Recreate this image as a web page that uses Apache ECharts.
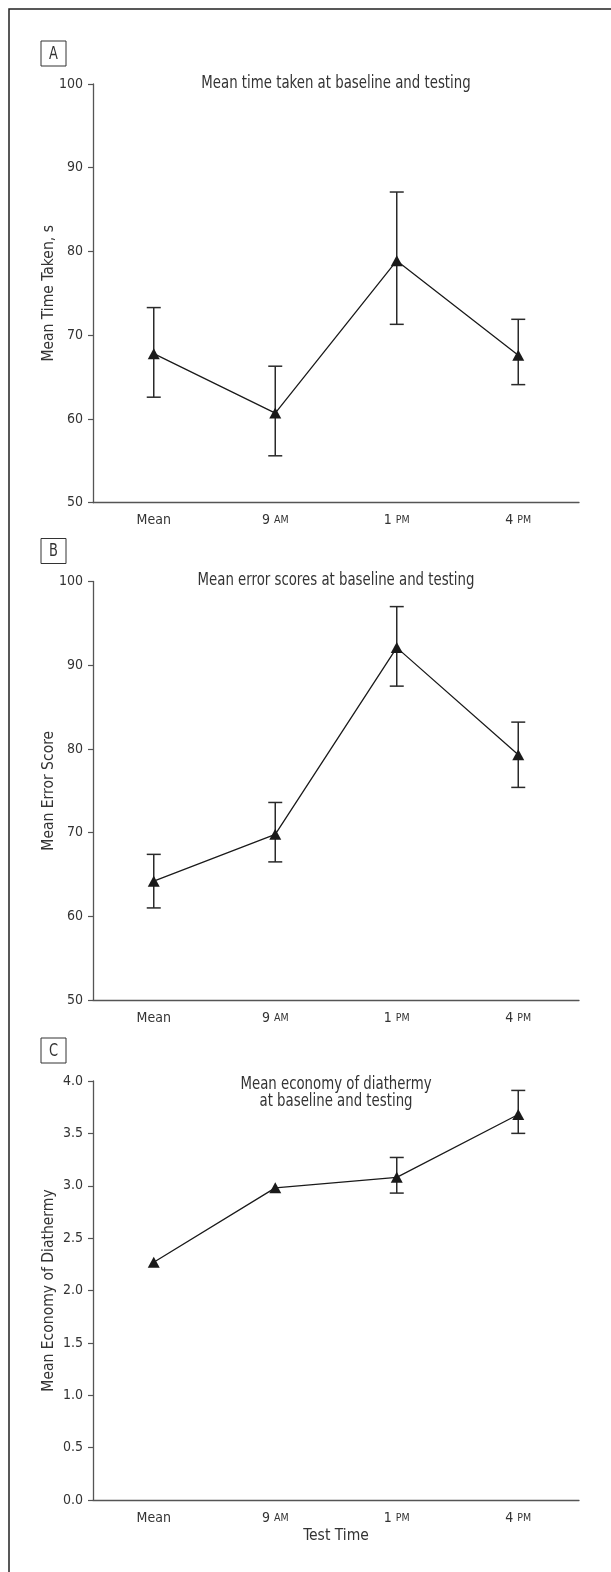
<!DOCTYPE html>
<html>
<head>
<meta charset="utf-8">
<script src="https://cdn.jsdelivr.net/npm/echarts@6/dist/echarts.min.js"></script>
<style>
  html, body { margin: 0; padding: 0; background: #fff; }
  #chart { width: 611px; height: 1572px; }
</style>
</head>
<body>
<div id="chart"></div>
<script>
// categories on the x axis (same for all three panels)
var categories = ['Mean', '9 AM', '1 PM', '4 PM'];

// A: mean time taken, s
var timeMean = [67.8, 60.7, 78.9, 67.6];
var timeLow  = [62.6, 55.6, 71.3, 64.1];
var timeHigh = [73.3, 66.3, 87.1, 71.9];

// B: mean error score
var errorMean = [64.2, 69.8, 92.1, 79.3];
var errorLow  = [61.0, 66.5, 87.5, 75.4];
var errorHigh = [67.4, 73.6, 97.0, 83.2];

// C: mean economy of diathermy (no visible bars on the first two)
var economyMean = [2.27, 2.98, 3.08, 3.68];
var economyLow  = [null, null, 2.93, 3.50];
var economyHigh = [null, null, 3.27, 3.91];

var panelTitles = [
  'Mean time taken at baseline and testing',
  'Mean error scores at baseline and testing',
  'Mean economy of diathermy\nat baseline and testing'
];
var yNames = ['Mean Time Taken, s', 'Mean Error Score', 'Mean Economy of Diathermy'];

var FONT = "'Liberation Sans Narrow', 'Arial Narrow', 'DejaVu Sans Condensed', sans-serif";
var TXT = '#333';
var AXIS = '#555';

var grids = [
  { left: 93, right: 32, top: 84, height: 418.7 },
  { left: 93, right: 32, top: 581.5, height: 418.5 },
  { left: 93, right: 32, top: 1081, height: 419 }
];

function catLabel(v) {
  var p = v.split(' ');
  if (p.length === 1) return '{n|' + v + '}';
  return '{n|' + p[0] + ' }{s|' + p[1] + '}';
}

function xAxisFor(i, name) {
  return {
    type: 'category', gridIndex: i, data: categories,
    boundaryGap: true,
    name: name || '', nameLocation: 'middle', nameGap: 28,
    nameTextStyle: { fontFamily: FONT, fontSize: 15.5, color: TXT },
    axisLine: { lineStyle: { color: AXIS, width: 1.3 } },
    axisTick: { alignWithLabel: true, length: 5, lineStyle: { color: AXIS, width: 1.2 } },
    axisLabel: {
      margin: 11, formatter: catLabel,
      rich: {
        n: { fontFamily: FONT, fontSize: 14, color: TXT },
        s: { fontFamily: FONT, fontSize: 10.5, color: TXT }
      }
    },
    splitLine: { show: false }
  };
}

function yAxisFor(i, min, max, interval, digits) {
  return {
    type: 'value', gridIndex: i, min: min, max: max, interval: interval,
    name: yNames[i], nameLocation: 'middle', nameRotate: 90, nameGap: 36,
    nameMoveOverlap: false,
    nameTextStyle: { fontFamily: FONT, fontSize: 15.5, color: TXT },
    axisLine: { show: true, lineStyle: { color: AXIS, width: 1.3 } },
    axisTick: { show: true, length: 5, lineStyle: { color: AXIS, width: 1.2 } },
    axisLabel: {
      margin: 10, fontFamily: FONT, fontSize: 14, color: TXT,
      formatter: function (v) { return v.toFixed(digits); }
    },
    splitLine: { show: false }
  };
}

function errorData(low, high) {
  var out = [];
  for (var k = 0; k < categories.length; k++) {
    if (low[k] != null && high[k] != null) out.push([k, low[k], high[k]]);
  }
  return out;
}

function renderErrorBar(params, api) {
  var top = api.coord([api.value(0), api.value(2)]);
  var bot = api.coord([api.value(0), api.value(1)]);
  var w = 7;
  var st = { stroke: '#2a2a2a', lineWidth: 1.5 };
  return {
    type: 'group',
    children: [
      { type: 'line', shape: { x1: top[0], y1: top[1], x2: bot[0], y2: bot[1] }, style: st },
      { type: 'line', shape: { x1: top[0] - w, y1: top[1], x2: top[0] + w, y2: top[1] }, style: st },
      { type: 'line', shape: { x1: bot[0] - w, y1: bot[1], x2: bot[0] + w, y2: bot[1] }, style: st }
    ]
  };
}

function meanSeries(i, values) {
  return {
    type: 'line', xAxisIndex: i, yAxisIndex: i, data: values, z: 5,
    symbol: 'triangle', symbolSize: [12, 11], showSymbol: true,
    lineStyle: { color: '#1a1a1a', width: 1.3 },
    itemStyle: { color: '#1a1a1a' },
    emphasis: { disabled: true }
  };
}

function barSeries(i, low, high) {
  return {
    type: 'custom', xAxisIndex: i, yAxisIndex: i, z: 3,
    renderItem: renderErrorBar,
    encode: { x: 0, y: [1, 2] },
    data: errorData(low, high)
  };
}

// frame, panel letter boxes and titles
var graphics = [
  { type: 'rect', shape: { x: 9, y: 9, width: 700, height: 1700 },
    style: { fill: 'none', stroke: '#222', lineWidth: 1.5 } }
];
var letters = ['A', 'B', 'C'];
var titleY = [74, 571, 1075];
for (var p = 0; p < 3; p++) {
  var by = grids[p].top - 43;
  graphics.push({ type: 'rect', shape: { x: 41, y: by, width: 25, height: 25 },
    style: { fill: '#fff', stroke: '#333', lineWidth: 1 } });
  graphics.push({ type: 'text', x: 53.5, y: by + 13, scaleX: 0.8,
    style: { text: letters[p], align: 'center', verticalAlign: 'middle',
      font: '18px ' + FONT, fill: TXT } });
  graphics.push({ type: 'text', x: 336, y: titleY[p], scaleX: 0.8,
    style: { text: panelTitles[p], align: 'center', verticalAlign: 'top',
      font: '18.5px ' + FONT, fill: TXT, lineHeight: 17.6 } });
}

var chart = echarts.init(document.getElementById('chart'), null, { renderer: 'canvas' });
chart.setOption({
  animation: false,
  backgroundColor: '#fff',
  grid: grids,
  xAxis: [xAxisFor(0), xAxisFor(1), xAxisFor(2, 'Test Time')],
  yAxis: [
    yAxisFor(0, 50, 100, 10, 0),
    yAxisFor(1, 50, 100, 10, 0),
    yAxisFor(2, 0, 4, 0.5, 1)
  ],
  graphic: graphics,
  series: [
    barSeries(0, timeLow, timeHigh),
    meanSeries(0, timeMean),
    barSeries(1, errorLow, errorHigh),
    meanSeries(1, errorMean),
    barSeries(2, economyLow, economyHigh),
    meanSeries(2, economyMean)
  ]
});
</script>
</body>
</html>
